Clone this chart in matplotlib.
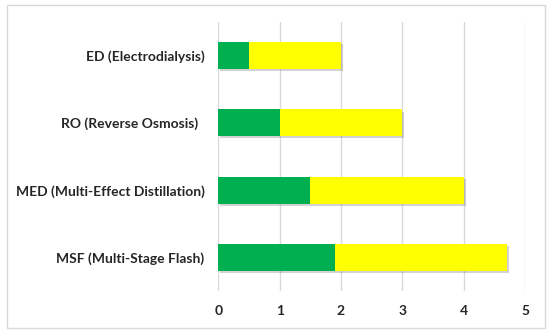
import matplotlib.pyplot as plt
import matplotlib.patheffects as pe
from matplotlib.patches import Rectangle

# data (bottom to top)
categories = ["MSF (Multi-Stage Flash)", "MED (Multi-Effect Distillation)",
              "RO (Reverse Osmosis)  ", "ED (Electrodialysis)"]
green_vals = [1.9, 1.5, 1.0, 0.5]
yellow_vals = [2.8, 2.5, 2.0, 1.5]
x_ticks = [0, 1, 2, 3, 4, 5]

plt.rcParams["font.family"] = ["Lato", "DejaVu Sans"]

fig = plt.figure(figsize=(5.5, 3.35), dpi=100)
ax = fig.add_axes([218.3 / 550, 44 / 335, (525 - 218.3) / 550, (291 - 22) / 335])

shadow = [pe.SimplePatchShadow(offset=(1.5, -1.5), shadow_rgbFace="#808080", alpha=0.35), pe.Normal()]
ypos = list(range(len(categories)))
b1 = ax.barh(ypos, green_vals, height=0.4, color="#00B050", zorder=3)
b2 = ax.barh(ypos, yellow_vals, left=green_vals, height=0.4, color="#FFFF00", zorder=3)
for bar in list(b1) + list(b2):
    bar.set_path_effects(shadow)

ax.set_xlim(0, 5)
ax.set_ylim(-0.5, 3.5)
ax.set_xticks(x_ticks)
ax.set_xticklabels([str(t) for t in x_ticks])
ax.set_yticks(ypos)
ax.set_yticklabels(categories)
for lab in ax.get_xticklabels() + ax.get_yticklabels():
    lab.set_fontweight("bold")
    lab.set_fontsize(10)
    lab.set_color("#262626")
ax.tick_params(axis="both", length=0)
ax.tick_params(axis="y", pad=10)
ax.tick_params(axis="x", pad=10)
for s in ax.spines.values():
    s.set_visible(False)
ax.grid(True, axis="x", color="#D9D9D9", linewidth=1, zorder=0)
ax.set_axisbelow(True)

fig.patches.append(Rectangle((7 / 550, 7 / 335), 538 / 550, 323 / 335,
                             transform=fig.transFigure, fill=False,
                             edgecolor="#D9D9D9", linewidth=1))

fig.savefig("out.png", dpi=100)
